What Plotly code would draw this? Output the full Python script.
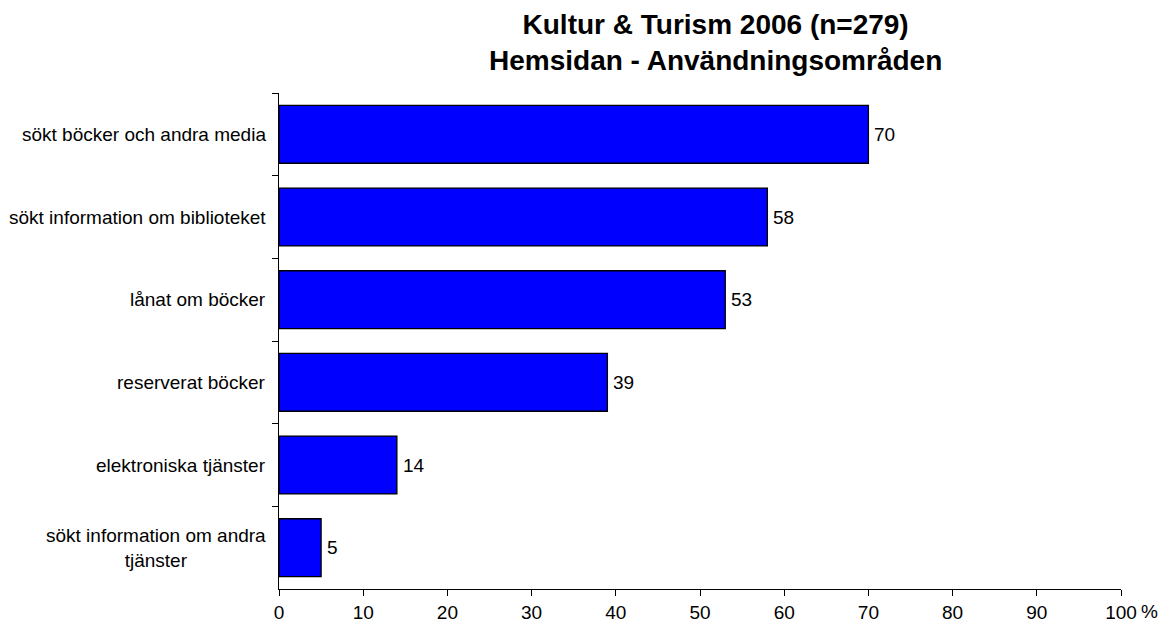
import plotly.graph_objects as go

categories = [
    "sökt böcker och andra media",
    "sökt information om biblioteket",
    "lånat om böcker",
    "reserverat böcker",
    "elektroniska tjänster",
    "sökt information om andra<br>tjänster",
]
values = [70, 58, 53, 39, 14, 5]
x_ticks = [0, 10, 20, 30, 40, 50, 60, 70, 80, 90, 100]
title_lines = ["Kultur & Turism 2006 (n=279)", "Hemsidan - Användningsområden"]
unit_label = "%"

FONT = "Liberation Sans, Arial, sans-serif"
ids = [f"c{i}" for i in range(len(categories))]

W, H = 1172, 626
ML, MR, MT, MB = 278.5, 51, 93, 37
plot_h = H - MT - MB
plot_w = W - ML - MR

fig = go.Figure()
fig.add_trace(go.Bar(
    x=values,
    y=ids,
    orientation="h",
    width=0.7,
    marker=dict(color="#0000FF", line=dict(color="black", width=1.3)),
    hoverinfo="skip",
))

annotations = []
for cid, label in zip(ids, categories):
    annotations.append(dict(
        xref="paper", yref="y", x=-0.013, y=cid,
        text=label, showarrow=False, xanchor="right", yanchor="middle",
        align="center", font=dict(family=FONT, size=19, color="black"),
    ))
for cid, v in zip(ids, values):
    annotations.append(dict(
        xref="x", yref="y", x=v, y=cid, xshift=4,
        text=str(v), showarrow=False, xanchor="left", yanchor="middle",
        font=dict(family=FONT, size=19, color="black"),
    ))
annotations.append(dict(
    xref="paper", yref="paper", x=(1150 - ML) / plot_w, y=-0.046,
    text=unit_label, showarrow=False, xanchor="center", yanchor="middle",
    font=dict(family=FONT, size=19, color="black"),
))
annotations.append(dict(
    xref="paper", yref="paper",
    x=(715 - ML) / plot_w, y=1 + (MT - 42.5) / plot_h,
    text="<b>" + "<br>".join(title_lines) + "</b>", showarrow=False,
    xanchor="center", yanchor="middle", align="center",
    font=dict(family=FONT, size=28, color="black"),
))

fig.update_layout(
    width=W, height=H,
    margin=dict(l=ML, r=MR, t=MT, b=MB, autoexpand=False),
    paper_bgcolor="white", plot_bgcolor="white",
    showlegend=False,
    annotations=annotations,
    font=dict(family=FONT, size=19, color="black"),
)
fig.update_xaxes(
    range=[0, 100], tickvals=x_ticks, ticktext=[str(t) for t in x_ticks],
    ticks="outside", ticklen=6, tickcolor="black", tickwidth=1,
    showline=True, linecolor="black", linewidth=1,
    showgrid=False, zeroline=False,
    tickfont=dict(family=FONT, size=19, color="black"),
    automargin=False,
)
fig.update_yaxes(
    categoryorder="array", categoryarray=ids,
    autorange="reversed",
    ticks="outside", ticklen=6, tickcolor="black", tickwidth=1,
    tickson="boundaries",
    showticklabels=False,
    showline=True, linecolor="black", linewidth=1,
    showgrid=False, zeroline=False,
    automargin=False,
)

fig.write_html(
    "out.html",
    config={"displayModeBar": False},
    post_script="document.body.style.margin='0';document.body.style.overflow='hidden';",
)
